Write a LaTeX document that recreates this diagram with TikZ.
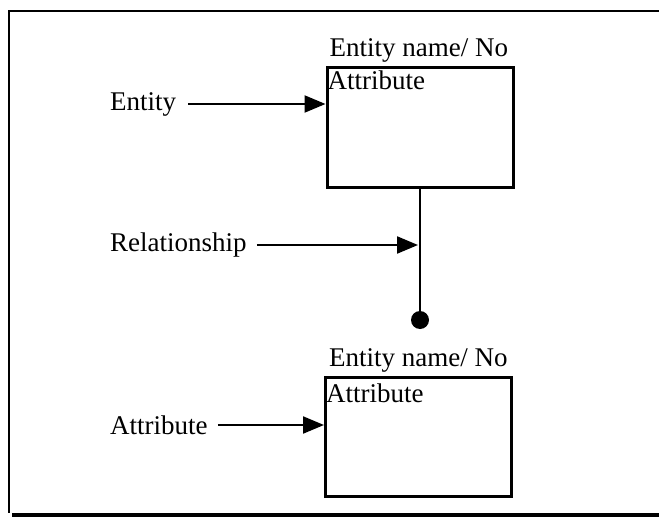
\documentclass[tikz,border=0pt]{standalone}
\usepackage{fontspec}
\setmainfont{Liberation Serif}
\usetikzlibrary{arrows.meta}
\begin{document}
\begin{tikzpicture}[x=1pt,y=-1pt,
  lbl/.style={anchor=west,inner sep=0pt,font=\fontsize{27}{31}\selectfont},
  txt/.style={anchor=base west,inner sep=0pt,font=\fontsize{27}{31}\selectfont},
  entbox/.style={draw,line width=3pt,minimum width=186pt,minimum height=119pt,inner sep=0pt},
  arr/.style={line width=2.2pt,-{Triangle[length=21pt,width=17pt]}},
  dotmark/.style={circle,fill=black,inner sep=0pt,minimum size=18pt}]
\useasboundingbox (0,0) rectangle (659,519);
% outer frame (top, left, heavy bottom rule)
\draw[line width=2.6pt] (659,11) -- (9,11) -- (9,513);
\draw[line width=4.5pt] (12,515) -- (659,515);

% entity boxes
\node[entbox] (box1) at (420,127.5) {};
\node[entbox] (box2) at (418.5,437) {};
\node[txt] (name1) at ([shift={(4,-10)}]box1.north west) {Entity name/ No};
\node[txt] (attr1) at ([shift={(2,23)}]box1.north west) {Attribute};
\node[txt] (name2) at ([shift={(5,-10)}]box2.north west) {Entity name/ No};
\node[txt] (attr2) at ([shift={(2,26)}]box2.north west) {Attribute};

% relationship line ending in a dot
\node[dotmark] (dot) at (420,320) {};
\draw[line width=2.6pt] (box1.south) -- (dot.center);

% legend labels with arrows
\node[lbl] (ent) at (110,104) {Entity};
\node[lbl] (rel) at (110,245) {Relationship};
\node[lbl] (att) at (110,425) {Attribute};
\draw[arr] ([xshift=12pt]ent.east) -- (ent.east -| box1.west);
\draw[arr] ([xshift=10pt]rel.east) -- ([xshift=-2pt]rel.east -| dot.center);
\draw[arr] ([xshift=10pt]att.east) -- (att.east -| box2.west);
\end{tikzpicture}
\end{document}
